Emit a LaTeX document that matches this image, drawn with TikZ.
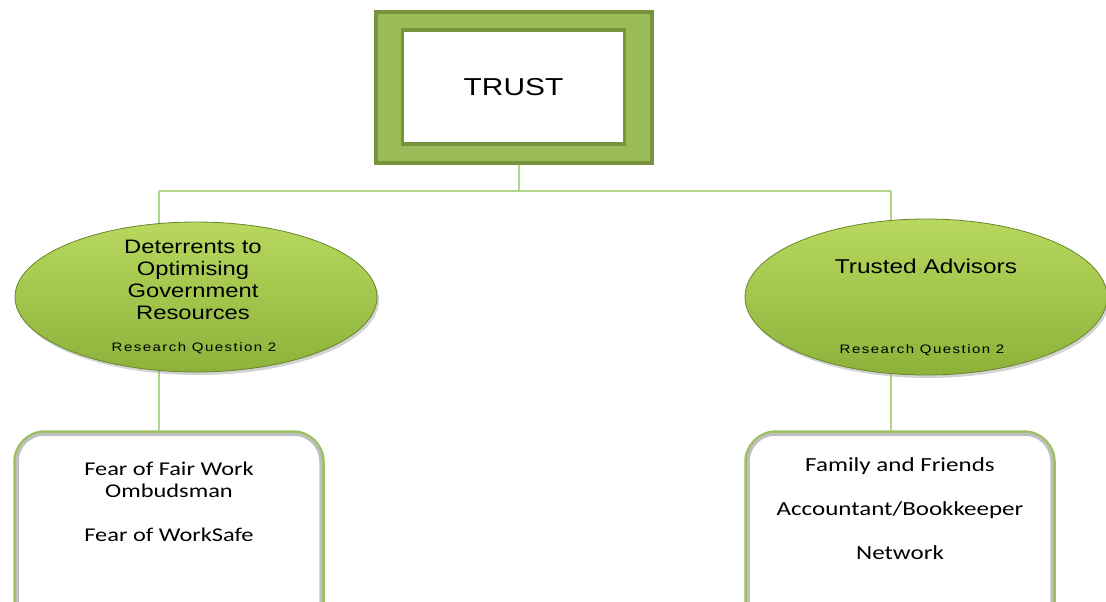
\documentclass[tikz,border=0pt]{standalone}
\usepackage{fontspec}
\setmainfont{Liberation Sans}[FakeStretch=1.22]
\newfontfamily\calibri{Carlito}[FakeStretch=1.25]
\newfontfamily\rqfont{Liberation Sans}[FakeStretch=1.22,LetterSpace=12]
\usetikzlibrary{shapes.geometric,shadows,backgrounds}

\definecolor{framegreen}{HTML}{9BBB59}
\definecolor{framedark}{HTML}{77933C}
\definecolor{linkgreen}{HTML}{B0D68A}
\definecolor{ovaltop}{HTML}{B8D85E}
\definecolor{ovalbot}{HTML}{8CB23A}
\definecolor{rimgreen}{HTML}{9CC060}

\tikzset{
  link/.style={draw=linkgreen, line width=2pt},
  oval/.style={ellipse, minimum width=362pt, minimum height=150pt,
    top color=ovaltop, bottom color=ovalbot, draw=ovalbot!75!black, line width=0.8pt,
    drop shadow={shadow xshift=2pt, shadow yshift=-3pt, opacity=0.35}},
  ovaltitle/.style={align=center, font=\fontsize{19.5}{22}\selectfont},
  rqlabel/.style={font=\rqfont\fontsize{12.3}{14}\selectfont},
  listbox/.style={rectangle, rounded corners=30pt, draw=rimgreen, line width=3.5pt,
    fill=white, minimum width=308pt, minimum height=200pt},
  innerrim/.style={draw=gray!50, line width=3pt, rounded corners=27pt},
  listtext/.style={align=center, font=\calibri\fontsize{19.5}{22}\selectfont}
}

\begin{document}
\begin{tikzpicture}[x=1pt, y=-1pt]
\useasboundingbox (0,0) rectangle (1106,602);
\clip (0,0) rectangle (1106,602);

% top frame with TRUST
\node[draw=framedark, line width=4pt, fill=framegreen,
      minimum width=276pt, minimum height=151pt] (frame) at (514,87.5) {};
\node[draw=framedark, line width=3.5pt, fill=white,
      minimum width=222pt, minimum height=114pt,
      font=\fontsize{24.5}{28}\selectfont] (trust) at (513.5,87) {TRUST};

% branch ovals
\node[oval] (deter) at (196,297) {};
\node[ovaltitle] (detertitle) at (193,280) {Deterrents to\\Optimising\\Government\\Resources};
\node[rqlabel] (rqleft) at (194,348) {Research Question 2};

\node[oval, minimum height=156pt] (advisors) at (926,297) {};
\node[ovaltitle, font=\fontsize{20}{22}\selectfont] (advtitle) at (926,266) {Trusted Advisors};
\node[rqlabel] (rqright) at (922,350) {Research Question 2};

% lower lists
\node[listbox] (fears) at (169,532) {};
\draw[innerrim] ([shift={(4pt,-4pt)}]fears.north west) rectangle ([shift={(-4pt,4pt)}]fears.south east);
\node[listtext] (fearstext) at (169,502) {Fear of Fair Work\\Ombudsman\\[22pt]Fear of WorkSafe};

\node[listbox] (trusted) at (900,532) {};
\draw[innerrim] ([shift={(4pt,-4pt)}]trusted.north west) rectangle ([shift={(-4pt,4pt)}]trusted.south east);
\node[listtext, font=\calibri\fontsize{20}{22}\selectfont] (trustedtext) at (900,509)
  {Family and Friends\\[22pt]Accountant/Bookkeeper\\[22pt]Network};

% connectors
\coordinate (hub) at (519,191);
\coordinate (jl) at (159,191);
\coordinate (jr) at (891,191);
\begin{scope}[on background layer]
  \draw[link] (hub |- frame.south) -- (hub);
  \draw[link] (jl) -- (jr);
  \draw[link] (jl) -- (jl |- fears.north);
  \draw[link] (jr) -- (jr |- trusted.north);
\end{scope}
\end{tikzpicture}
\end{document}
